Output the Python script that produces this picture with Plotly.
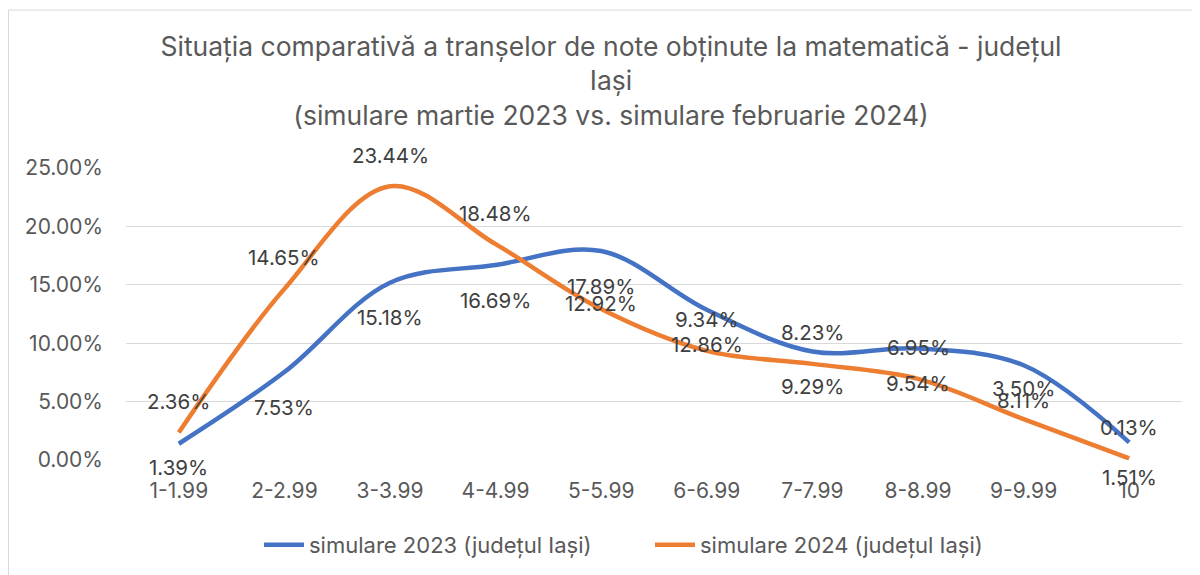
import plotly.graph_objects as go

categories = ["1-1.99", "2-2.99", "3-3.99", "4-4.99", "5-5.99",
              "6-6.99", "7-7.99", "8-8.99", "9-9.99", "10"]
sim_2023 = [1.39, 7.53, 15.18, 16.69, 17.89, 12.86, 9.29, 9.54, 8.11, 1.51]
sim_2024 = [2.36, 14.65, 23.44, 18.48, 12.92, 9.34, 8.23, 6.95, 3.50, 0.13]
name_2023 = "simulare 2023 (județul Iași)"
name_2024 = "simulare 2024 (județul Iași)"
title_text = ("Situația comparativă a tranșelor de note obținute la matematică - județul<br>"
              "Iași<br>(simulare martie 2023 vs. simulare februarie 2024)")
y_ticks = [0, 5, 10, 15, 20, 25]

# label placement (style): 2024 labels above the line, 2023 labels below
LABEL_SHIFT_2024 = 31
LABEL_SHIFT_2023 = -35
label_nudge_2024 = {"5-5.99": 6}
label_nudge_2023 = {"1-1.99": -24}

FONT = "Inter, 'Liberation Sans', Arial, sans-serif"
BLUE = "#4472C4"
ORANGE = "#ED7D31"
W, H = 1192, 567   # page body has an 8px margin
L, R, T, B = 118, 18, 160, 115
PW, PH = W - L - R, H - T - B

fig = go.Figure()
fig.add_trace(go.Scatter(x=categories, y=sim_2023, name=name_2023, mode="lines",
                         line=dict(color=BLUE, width=4.5, shape="spline", smoothing=1.0)))
fig.add_trace(go.Scatter(x=categories, y=sim_2024, name=name_2024, mode="lines",
                         line=dict(color=ORANGE, width=4.5, shape="spline", smoothing=1.0)))

label_font = dict(family=FONT, size=20.5, color="#404040")
annotations = []
# x given as the category's index on the category axis
for i, (c, v) in enumerate(zip(categories, sim_2024)):
    annotations.append(dict(x=i, y=v, xref="x", yref="y", text=f"{v:.2f}%",
                            showarrow=False,
                            yshift=label_nudge_2024.get(c, LABEL_SHIFT_2024),
                            font=label_font))
for i, (c, v) in enumerate(zip(categories, sim_2023)):
    annotations.append(dict(x=i, y=v, xref="x", yref="y", text=f"{v:.2f}%",
                            showarrow=False,
                            yshift=label_nudge_2023.get(c, LABEL_SHIFT_2023),
                            font=label_font))

fig.update_layout(
    width=W, height=H,
    margin=dict(l=L, r=R, t=T, b=B),
    paper_bgcolor="white", plot_bgcolor="white",
    font=dict(family=FONT, color="#595959"),
    title=dict(text=title_text, x=603 / W, xanchor="center", xref="container",
               y=1 - 48 / H, yanchor="top", yref="container",
               font=dict(family=FONT, size=26.5, color="#595959")),
    xaxis=dict(type="category", range=[-0.5, 9.5], showgrid=False, showline=False,
               zeroline=False, ticks="", ticklabelstandoff=16,
               tickfont=dict(family=FONT, size=21, color="#595959")),
    yaxis=dict(range=[0, 25], tickvals=y_ticks, ticktext=[f"{t:.2f}%" for t in y_ticks],
               showgrid=True, gridcolor="#D9D9D9", gridwidth=1.3, zeroline=False,
               showline=False, ticks="", ticklabelstandoff=22,
               tickfont=dict(family=FONT, size=21, color="#595959")),
    legend=dict(orientation="h", x=251 / W, xanchor="left", xref="container",
                y=1 - 537 / H, yanchor="middle", yref="container",
                font=dict(family=FONT, size=22, color="#595959"),
                entrywidth=336, entrywidthmode="pixels", itemwidth=40),
    annotations=annotations,
    shapes=[dict(type="rect", xref="paper", yref="paper",
                 x0=(0.5 - L) / PW, x1=(W + 20 - L) / PW,
                 y0=-(B + 40) / PH, y1=(PH + T - 2) / PH,
                 line=dict(color="#D9D9D9", width=1), fillcolor="rgba(0,0,0,0)",
                 layer="below")],
    showlegend=True,
)

fig.write_html("out.html")
